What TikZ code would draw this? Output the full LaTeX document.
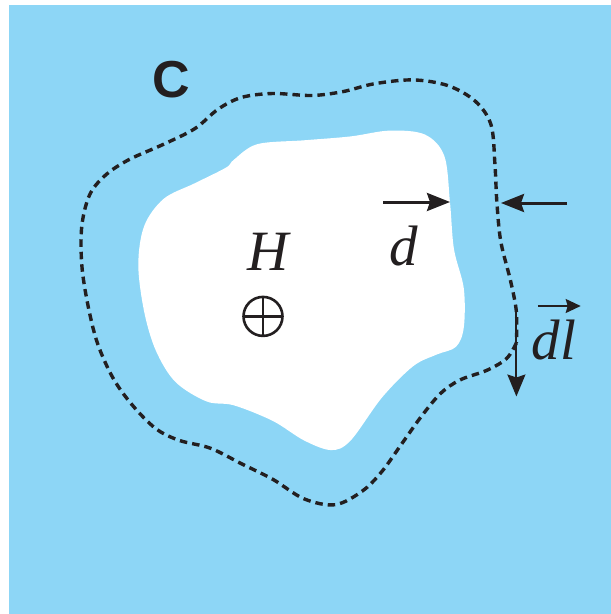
\documentclass[tikz,border=0pt]{standalone}
\usepackage{fontspec}
\setmainfont{Liberation Serif}
\newfontfamily\labelsans{Liberation Sans}
\usetikzlibrary{arrows.meta}
\definecolor{skyfill}{RGB}{141,214,246}
\definecolor{inkc}{RGB}{35,31,32}
\tikzset{
  bigarrow/.style={draw=inkc, line width=3pt, -{Stealth[length=23pt,width=18pt,inset=3pt]}},
  vecarrow/.style={draw=inkc, line width=1.8pt, -{Stealth[length=15pt,width=14pt,inset=2pt]}},
  loopline/.style={draw=inkc, line width=3.4pt, dash pattern=on 7.5pt off 5pt},
  lbl/.style={inner sep=0pt, text=inkc, font=\fontsize{57}{60}\selectfont\itshape}
}
\begin{document}
\begin{tikzpicture}[x=1pt,y=-1pt]
\useasboundingbox (0,0) rectangle (611,614);
\fill[white] (0,0) rectangle (611,614);
\fill[skyfill] (8.6,4.7) rectangle (611,614);
% white region
\fill[white] plot[smooth cycle, tension=0.55] coordinates {
(233.8,159.8) (257.2,144.2) (304,140.3) (350.7,136.4) (389.7,130.6) (424.8,134.5)
(444.3,155.9) (450,202.6) (454,249.4) (463.8,288.4) (463.8,327.4)
(456,346.8) (436.5,354.6) (413,366.3) (382,397.5) (350.7,440.4) (331.3,450.1)
(304,440.4) (272.8,420.9) (233.8,405.3) (206.5,401.4) (175.4,381.9) (155.9,350.7)
(144.2,311.8) (138.3,265) (144.2,226) (163.7,198.8) (194.9,183.2) (226,167.6)};
% dashed loop C
\draw[loopline] plot[smooth, tension=0.55] coordinates {
(516.4,342.9) (506.6,358.5) (487.1,370.2) (459.9,380) (440.4,393.6) (420.9,417)
(401.4,444.3) (381.9,471.5) (362.4,491) (335.2,504.7) (304,498.8) (272.8,479.3)
(241.6,463.8) (210.4,448.2) (179.3,440.4) (155.9,428.7) (132.5,405.3) (113,378)
(97.4,343) (87.7,304) (81.8,265) (81.8,226) (89.6,194.9) (105.2,175.4) (128.6,159.8)
(163.7,144.2) (194.9,128.6) (218.2,109.1) (241.6,97.4) (272.8,93.5) (311.8,95.5)
(343,91.6) (374.1,83.8) (413.1,79.9) (448.2,85.7) (475.4,101.3) (491,124.7)
(494.9,163.7) (496.9,202.6) (500.8,241.6) (510.5,280.6) (516.4,311.8) (516.4,342.9)};
% labels
\node[inner sep=0pt, text=inkc, font=\labelsans\bfseries\fontsize{52}{56}\selectfont] (clbl) at (171.5,80) {C};
\node[lbl] (hlbl) at (268,251.5) {H};
\node[lbl] (dlbl) at (404,246) {d};
\node[lbl] (dllbl) at (554,340) {dl};
% H direction symbol (into page)
\coordinate (hc) at (263,316.4);
\draw[inkc, line width=2.6pt] (hc) circle (19.5);
\draw[inkc, line width=2.6pt] ([yshift=-19.5pt]hc) -- ([yshift=19.5pt]hc) ([xshift=-19.5pt]hc) -- ([xshift=19.5pt]hc);
% d arrows
\coordinate (da1) at (383,202);
\coordinate (db1) at (450,202);
\coordinate (da2) at (567,203);
\coordinate (db2) at (501,203);
\draw[bigarrow] (da1) -- (db1);
\draw[bigarrow] (da2) -- (db2);
% dl arrow
\coordinate (la) at (516.4,312);
\coordinate (lb) at (516.4,396.5);
\draw[draw=inkc, line width=2pt, -{Stealth[length=22pt,width=18pt,inset=3pt]}] (la) -- (lb);
% vector sign over dl
\coordinate (va) at (537.8,306);
\coordinate (vb) at (580.7,306);
\draw[vecarrow] (va) -- (vb);
\end{tikzpicture}
\end{document}
